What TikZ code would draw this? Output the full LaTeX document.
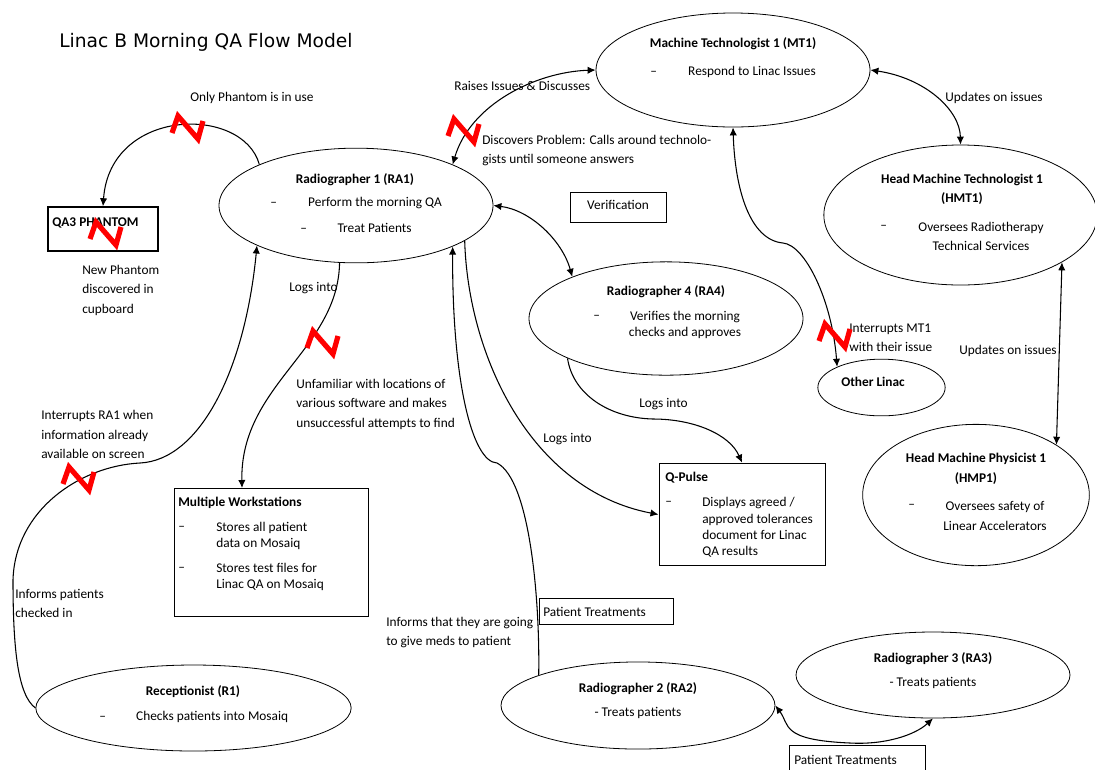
\documentclass[tikz,border=0pt]{standalone}
\usepackage{fontspec}
\setmainfont{Carlito}
\newfontfamily\titlefont{DejaVu Sans}
\usetikzlibrary{shapes.geometric, arrows.meta}
\tikzset{
  every picture/.style={x=0.75pt, y=-0.75pt, >={Latex[length=6pt,width=5.5pt]}},
  actor/.style={draw, ellipse, inner sep=0pt, line width=0.6pt},
  infobox/.style={draw, rectangle, inner sep=0pt, line width=0.75pt},
  lbl/.style={anchor=west, align=left, inner sep=0pt, yshift=-0.75pt, font=\fontsize{10}{14.6}\selectfont},
  ttl/.style={anchor=center, align=center, inner sep=0pt, yshift=-0.75pt, font=\fontsize{10}{14.6}\selectfont\bfseries},
  txt/.style={anchor=center, align=center, inner sep=0pt, yshift=-0.75pt, font=\fontsize{10}{14.6}\selectfont},
  tight/.style={font=\fontsize{10}{12.2}\selectfont},
  link/.style={line width=0.8pt},
  zigzag/.style={draw=red, line width=3.9pt, line join=miter},
}
\newcommand{\dashgap}[1]{--\hspace{#1}}
\begin{document}
\begin{tikzpicture}
  \useasboundingbox (0,0) rectangle (1095,769);

  % Define nodes
  \node[actor, minimum width=205.5pt, minimum height=85.5pt] (MT1) at (733,70) {};
  \node[actor, minimum width=205.5pt, minimum height=86pt] (RA1) at (356,205.5) {};
  \node[actor, minimum width=205pt, minimum height=105pt] (HMT1) at (960.5,215) {};
  \node[actor, minimum width=205.5pt, minimum height=85pt] (RA4) at (666,318.5) {};
  \node[actor, minimum width=95.5pt, minimum height=42.5pt] (Other) at (881.5,387.5) {};
  \node[actor, minimum width=170pt, minimum height=106pt] (HMP1) at (976,495) {};
  \node[actor, minimum width=236.5pt, minimum height=64.5pt] (R1) at (193.5,708) {};
  \node[actor, minimum width=205.5pt, minimum height=65.3pt] (RA2) at (638,705.5) {};
  \node[actor, minimum width=205.5pt, minimum height=64.5pt] (RA3) at (933,675) {};

  \node[infobox, line width=1.1pt, minimum width=82.5pt, minimum height=33pt] (QA3) at (103,229) {};
  \node[infobox, minimum width=72.7pt, minimum height=22.5pt] (Verif) at (618.5,207) {};
  \node[infobox, minimum width=146pt, minimum height=96pt] (Work) at (271.5,552) {};
  \node[infobox, minimum width=124.5pt, minimum height=77pt] (QPulse) at (742,514.5) {};
  \node[infobox, minimum width=101pt, minimum height=20pt] (PT2) at (606.5,611.5) {};
  \node[infobox, minimum width=102pt, minimum height=24pt] (PT3) at (857,761) {};

  \coordinate (WorkIn) at (242,488);
  \coordinate (OtherMid) at (783,243);
  \coordinate (R1MidA) at (13,580);
  \coordinate (R1MidB) at (140,463);
  \coordinate (RA2Mid) at (497,463);
  \coordinate (RA3Mid) at (850,743);
  \coordinate (RA4Mid) at (653,419);

  % Define edges
  \draw[->, link] (RA1.157) .. controls (243,105) and (110,107) .. (QA3.north);
  \draw[<->, link] (MT1.180) .. controls (535,72) and (470,105) .. (RA1.23);
  \draw[<->, link] (RA1.0) .. controls (530,210) and (562,240) .. (RA4.156);
  \draw[<->, link] (MT1.0) .. controls (925,78) and (960,110) .. (HMT1.90);
  \draw[<->, link] (MT1.270) .. controls (735,190) and (750,240) .. (OtherMid)
    .. controls (805,245) and (832,300) .. (Other.155);
  \draw[<->, link] (HMT1.335) -- (HMP1.32);
  \draw[->, link] (RA1.254) .. controls (338,350) and (240,385) .. (WorkIn);
  \draw[->, link] (R1.180) .. controls (18,695) and (13,650) .. (R1MidA)
    .. controls (15,510) and (80,466) .. (R1MidB)
    .. controls (200,460) and (245,370) .. (RA1.202);
  \draw[->, link] (RA2.163) .. controls (540,600) and (530,480) .. (RA2Mid)
    .. controls (472,462) and (452,380) .. (RA1.337);
  \draw[->, link] (RA1.342) .. controls (468,355) and (530,490) .. (QPulse.west);
  \draw[->, link] (RA4.202) .. controls (573,395) and (610,418) .. (RA4Mid)
    .. controls (695,419) and (730,435) .. (QPulse.north);
  \draw[<->, link] (RA2.0) .. controls (790,725) and (780,740) .. (RA3Mid)
    .. controls (885,745) and (915,735) .. (RA3.270);

  % Texts
  \node[anchor=west, inner sep=0pt, font=\titlefont\fontsize{14}{16}\selectfont] (Title) at (59,42) {Linac B Morning QA Flow Model};

  \node[ttl] (MT1name) at (733,43) {Machine Technologist 1 (MT1)};
  \node[lbl] (MT1task) at (650,71) {\dashgap{23.5pt}Respond to Linac Issues};

  \node[ttl] (RA1name) at (355,179) {Radiographer 1 (RA1)};
  \node[lbl] (RA1taskA) at (270,202) {\dashgap{23.5pt}Perform the morning QA};
  \node[lbl] (RA1taskB) at (300,227) {\dashgap{23pt}Treat Patients};

  \node[ttl] (HMT1name) at (962,188.5) {Head Machine Technologist 1\\(HMT1)};
  \node[lbl] (HMT1dash) at (880,226) {--};
  \node[txt] (HMT1task) at (981,235.5) {Oversees Radiotherapy\\Technical Services};

  \node[ttl] (RA4name) at (666,291) {Radiographer 4 (RA4)};
  \node[lbl] (RA4dash) at (593,316) {--};
  \node[txt, tight] (RA4task) at (685,324) {Verifies the morning\\checks and approves};

  \node[ttl] (Othername) at (873,381) {Other Linac};

  \node[ttl] (HMP1name) at (976,468) {Head Machine Physicist 1\\(HMP1)};
  \node[lbl] (HMP1dash) at (908,505) {--};
  \node[txt] (HMP1task) at (995,515) {Oversees safety of\\Linear Accelerators};

  \node[ttl] (R1name) at (193,691) {Receptionist (R1)};
  \node[lbl] (R1task) at (99,716) {\dashgap{22.75pt}Checks patients into Mosaiq};

  \node[ttl] (RA2name) at (638,688) {Radiographer 2 (RA2)};
  \node[txt] (RA2task) at (638,712) {- Treats patients};

  \node[ttl] (RA3name) at (933,658) {Radiographer 3 (RA3)};
  \node[txt] (RA3task) at (933,682) {- Treats patients};

  \node[ttl, anchor=west] (QA3name) at (52,222) {QA3 PHANTOM};
  \node[txt] (Veriftext) at (618,204) {Verification};

  \node[ttl, anchor=west] (Workname) at (178,502) {Multiple Workstations};
  \node[lbl] (WorkdashA) at (178,527) {--};
  \node[lbl, tight] (WorktaskA) at (216,535) {Stores all patient\\data on Mosaiq};
  \node[lbl] (WorkdashB) at (178,568) {--};
  \node[lbl, tight] (WorktaskB) at (216,576) {Stores test files for\\Linac QA on Mosaiq};

  \node[ttl, anchor=west] (QPulsename) at (665,477) {Q-Pulse};
  \node[lbl] (QPulsedash) at (665,502) {--};
  \node[lbl, tight] (QPulsetask) at (702,526.5) {Displays agreed /\\approved tolerances\\document for Linac\\QA results};

  \node[lbl] (PT2text) at (543,611) {Patient Treatments};
  \node[lbl] (PT3text) at (794,759) {Patient Treatments};

  \node[lbl] (OnlyPh) at (190,97) {Only Phantom is in use};
  \node[lbl] (NewPh) at (82,289) {New Phantom\\discovered in\\cupboard};
  \node[lbl] (Raises) at (454,85) {Raises Issues \& Discusses};
  \node[lbl] (Discovers) at (482,149.5) {Discovers Problem: Calls around technolo-\\gists until someone answers};
  \node[lbl] (UpdA) at (945,97) {Updates on issues};
  \node[lbl] (UpdB) at (959,350) {Updates on issues};
  \node[lbl] (LogsA) at (289,287) {Logs into};
  \node[lbl] (LogsB) at (639,403) {Logs into};
  \node[lbl] (LogsC) at (543,438) {Logs into};
  \node[lbl] (Unfam) at (296,403) {Unfamiliar with locations of\\various software and makes\\unsuccessful attempts to find};
  \node[lbl] (IntRA1) at (41,433.5) {Interrupts RA1 when\\information already\\available on screen};
  \node[lbl] (IntMT1) at (849,336.5) {Interrupts MT1\\with their issue};
  \node[lbl] (Informs) at (15,602.5) {Informs patients\\checked in};
  \node[lbl] (Meds) at (386,631.5) {Informs that they are going\\to give meds to patient};

  % Red marks
  \foreach \cx/\cy in {187/127, 105/233, 463/130, 322/342, 78/478, 834/335}
    \draw[zigzag] (\cx-15,\cy+6) -- (\cx-9,\cy-11) -- (\cx+11,\cy+12) -- (\cx+16,\cy-6);
\end{tikzpicture}
\end{document}
